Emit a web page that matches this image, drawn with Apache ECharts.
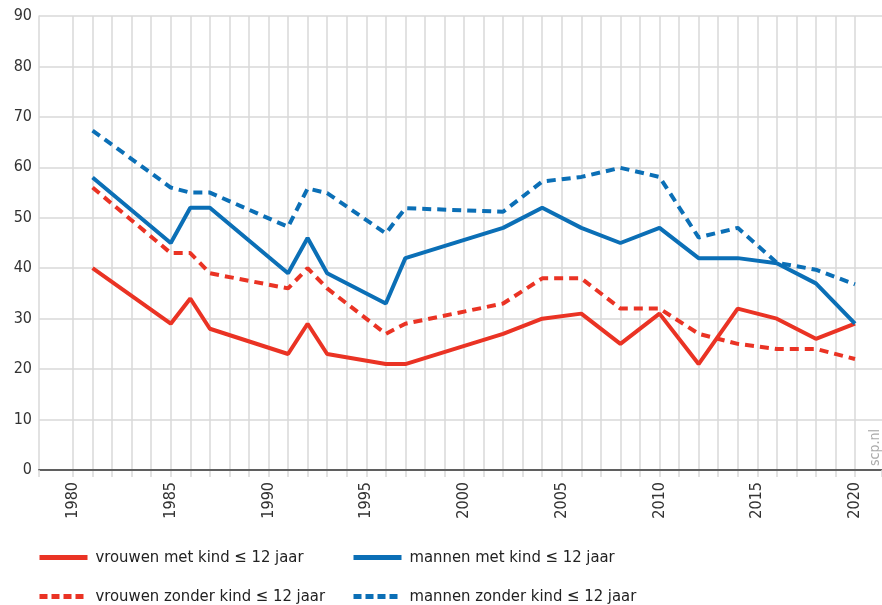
<!DOCTYPE html>
<html>
<head>
<meta charset="utf-8">
<style>
  html, body { margin: 0; padding: 0; background: #fff; }
  #chart { width: 882px; height: 605px; }
</style>
<script src="https://cdn.jsdelivr.net/npm/echarts@6/dist/echarts.min.js"></script>
</head>
<body>
<div id="chart"></div>
<script>
// jaren waarin gemeten is
var years = [1981, 1985, 1986, 1987, 1991, 1992, 1993, 1996, 1997, 2002, 2004, 2006, 2008, 2010, 2012, 2014, 2016, 2018, 2020];

var vrouwenMet    = [40, 29, 34, 28, 23, 29, 23, 21, 21, 27, 30, 31, 25, 31, 21, 32, 30, 26, 29];
var vrouwenZonder = [56, 43, 43, 39, 36, 40, 36, 27, 29, 33, 38, 38, 32, 32, 27, 25, 24, 24, 22];
var mannenMet     = [58, 45, 52, 52, 39, 46, 39, 33, 42, 48, 52, 48, 45, 48, 42, 42, 41, 37, 29];
var mannenZonder  = [67.3, 56, 55, 55, 48.2, 55.8, 54.9, 46.9, 51.9, 51.2, 57.2, 58.1, 59.9, 58.1, 46.1, 48, 41.1, 39.7, 36.8];

var yTicks = [0, 10, 20, 30, 40, 50, 60, 70, 80, 90];

var names = ['vrouwen met kind ≤ 12 jaar', 'vrouwen zonder kind ≤ 12 jaar',
             'mannen met kind ≤ 12 jaar', 'mannen zonder kind ≤ 12 jaar'];

var RED = '#ea3324', BLUE = '#0b6fb6', GRID = '#d9d9d9';
var FONT = '"Liberation Sans Narrow", "DejaVu Sans Condensed", "Noto Sans", sans-serif';

function pairs(vals) {
  return vals.map(function (v, i) { return [years[i], v]; });
}

function serie(name, vals, color, dashed) {
  return {
    name: name,
    type: 'line',
    xAxisIndex: 1,
    yAxisIndex: 1,
    symbol: 'none',
    animation: false,
    lineStyle: { color: color, width: 4, type: dashed ? [9, 6] : 'solid' },
    itemStyle: { color: color },
    data: pairs(vals)
  };
}

// one legend per item, so the two columns line up
function legendItem(name, left, top, color, dashed) {
  return {
    left: left, top: top, padding: 0, itemWidth: 48, itemHeight: 14, itemGap: 0,
    selectedMode: false,
    textStyle: { fontSize: 16.5, color: '#222', fontFamily: FONT, padding: [0, 0, 0, 3] },
    lineStyle: { color: color, width: 5, type: dashed ? [8, 4] : 'solid' },
    itemStyle: { opacity: 0 },
    data: [name]
  };
}

var chart = echarts.init(document.getElementById('chart'));
chart.setOption({
  animation: false,
  grid: [
    { left: 39, right: 0, top: 16, bottom: 135 },
    { left: 73, right: 27, top: 16, bottom: 135 }
  ],
  xAxis: [
    {
      gridIndex: 0, type: 'value', min: 0, max: 1, interval: 1, z: 5,
      axisLine: { show: true, lineStyle: { color: '#5f5f5f', width: 2 } },
      axisTick: { show: true, length: 7, lineStyle: { color: GRID, width: 1.5 } },
      axisLabel: { show: false },
      splitLine: { show: false }
    },
    {
      gridIndex: 1, type: 'value', min: 1980, max: 2020, interval: 1,
      axisLine: { show: false },
      axisTick: { show: true, length: 7, lineStyle: { color: GRID, width: 1.5 } },
      splitLine: { show: true, lineStyle: { color: GRID, width: 1.5 } },
      axisLabel: {
        rotate: 90, margin: 12, color: '#333', fontSize: 16, fontFamily: FONT,
        formatter: function (v) { return v % 5 === 0 ? String(v) : ''; }
      }
    }
  ],
  yAxis: [
    {
      gridIndex: 0, type: 'value', min: yTicks[0], max: yTicks[yTicks.length - 1], interval: 10,
      axisLine: { show: true, lineStyle: { color: GRID, width: 1.5 } },
      axisTick: { show: false },
      splitLine: { show: true, lineStyle: { color: GRID, width: 1.5 } },
      axisLabel: { color: '#333', fontSize: 16, fontFamily: FONT, margin: 7 }
    },
    {
      gridIndex: 1, type: 'value', min: 0, max: 90, show: false
    }
  ],
  legend: [
    legendItem(names[0], 37, 549, RED, false),
    legendItem(names[1], 37, 588, RED, true),
    legendItem(names[2], 351, 549, BLUE, false),
    legendItem(names[3], 351, 588, BLUE, true)
  ],
  graphic: [
    {
      type: 'text', x: 868, y: 466, rotation: Math.PI / 2,
      style: { text: 'scp.nl', fill: '#aaa', fontSize: 14, fontFamily: FONT }
    }
  ],
  series: [
    serie(names[0], vrouwenMet, RED, false),
    serie(names[1], vrouwenZonder, RED, true),
    serie(names[2], mannenMet, BLUE, false),
    serie(names[3], mannenZonder, BLUE, true)
  ]
});
</script>
</body>
</html>
